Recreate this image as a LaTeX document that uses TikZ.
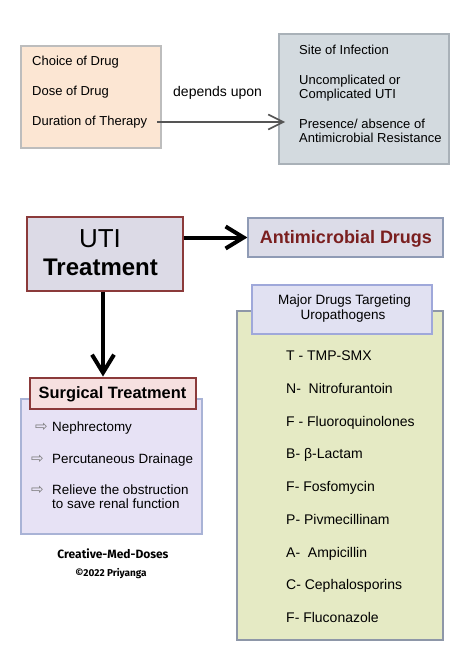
\documentclass[tikz,border=0pt]{standalone}
\usepackage{fontspec}
\setmainfont{Liberation Sans}
\newfontfamily\symfont{DejaVu Sans}
\newfontfamily\creditfont{Fira Sans}
\usetikzlibrary{arrows.meta}
\definecolor{peach}{HTML}{FCE6D3}
\definecolor{peachb}{HTML}{BDBDBD}
\definecolor{greyb}{HTML}{D3DADF}
\definecolor{greybd}{HTML}{A9B1B8}
\definecolor{utifill}{HTML}{DCDAE6}
\definecolor{darkred}{HTML}{8B3A3A}
\definecolor{antfill}{HTML}{DCDCE8}
\definecolor{antbd}{HTML}{8F9BB5}
\definecolor{anttext}{HTML}{7A1F1F}
\definecolor{hdrfill}{HTML}{E1E1F2}
\definecolor{hdrbd}{HTML}{9FA8DA}
\definecolor{greenfill}{HTML}{E5EAC4}
\definecolor{greenbd}{HTML}{8E97A8}
\definecolor{surgfill}{HTML}{F6E0E0}
\definecolor{lavfill}{HTML}{E7E2F5}
\definecolor{lavbd}{HTML}{A9B3D6}
\definecolor{arrgrey}{HTML}{555555}
\definecolor{bulletgrey}{HTML}{7A7A7A}
\tikzset{
  boxshape/.style={draw, rectangle, inner sep=0pt, line width=1.2pt},
  txt/.style={anchor=base west, inner sep=0pt, font=\fontsize{13}{15}\selectfont},
  ctxt/.style={anchor=base, inner sep=0pt},
  thickarrow/.style={line width=4pt, -{Straight Barb[length=18pt,width=22pt,line width=4pt]}},
  bul/.style={anchor=base west, inner sep=0pt, text=bulletgrey, font=\symfont\fontsize{15}{16}\selectfont}
}
\begin{document}
\begin{tikzpicture}[x=1pt,y=-1pt]
\useasboundingbox[fill=white] (0,0) rectangle (474,663);
% top section
\node[boxshape, draw=peachb, fill=peach, minimum width=140pt, minimum height=102pt] (b1) at (91,97) {};
\node[boxshape, draw=greybd, fill=greyb, minimum width=170pt, minimum height=130pt] (b2) at (364,99) {};
\node[txt] (c1) at (32,66) {Choice of Drug};
\node[txt] (c2) at (32,96) {Dose of Drug};
\node[txt] (c3) at (32,126) {Duration of Therapy};
\node[txt, font=\fontsize{14}{16}\selectfont] (dep) at (173,97) {depends upon};
\node[txt] (s1) at (299,55) {Site of Infection};
\node[txt] (s2) at (299,85) {Uncomplicated or};
\node[txt] (s3) at (299,99) {Complicated UTI};
\node[txt] (s4) at (299,129) {Presence/ absence of};
\node[txt] (s5) at (299,143) {Antimicrobial Resistance};
\coordinate (aend) at (285,122);
\draw[arrgrey, line width=1.6pt, -{Straight Barb[length=15pt,width=15pt,line width=1.6pt]}] (c3.east |- aend) ++(10,0) coordinate (astart) (astart) -- (aend);
% UTI
\node[boxshape, draw=darkred, fill=utifill, minimum width=156pt, minimum height=74pt] (uti) at (105,254) {};
\node[ctxt, font=\fontsize{26}{28}\selectfont] (utit) at (100,247) {UTI};
\node[ctxt, font=\bfseries\fontsize{24}{26}\selectfont] (utit2) at (100.5,275) {Treatment};
% Antimicrobial
\node[boxshape, draw=antbd, fill=antfill, minimum width=195pt, minimum height=39pt] (ant) at (345.5,237.5) {};
\node[ctxt, text=anttext, font=\bfseries\fontsize{18}{20}\selectfont] (antt) at (346,243) {Antimicrobial Drugs};
\draw[thickarrow] (uti.east |- ant.west) -- (ant.west);
% green
\node[boxshape, draw=greenbd, fill=greenfill, minimum width=206pt, minimum height=329pt] (green) at (340,475.5) {};
\node[boxshape, draw=hdrbd, fill=hdrfill, minimum width=180pt, minimum height=49pt] (hdr) at (342,309.5) {};
\node[ctxt, font=\fontsize{13.5}{15}\selectfont] (h1) at (344.5,304) {Major Drugs Targeting};
\node[ctxt, font=\fontsize{13.5}{15}\selectfont] (h2) at (343,319) {Uropathogens};
\node[txt, font=\fontsize{14}{16}\selectfont] (g1) at (286,360) {T - TMP-SMX};
\node[txt, font=\fontsize{14}{16}\selectfont] (g2) at (286,393) {N-\ \ Nitrofurantoin};
\node[txt, font=\fontsize{14}{16}\selectfont] (g3) at (286,426) {F - Fluoroquinolones};
\node[txt, font=\fontsize{14}{16}\selectfont] (g4) at (286,458) {B- β-Lactam};
\node[txt, font=\fontsize{14}{16}\selectfont] (g5) at (286,491) {F- Fosfomycin};
\node[txt, font=\fontsize{14}{16}\selectfont] (g6) at (286,524) {P- Pivmecillinam};
\node[txt, font=\fontsize{14}{16}\selectfont] (g7) at (286,557) {A-\ \ Ampicillin};
\node[txt, font=\fontsize{14}{16}\selectfont] (g8) at (286,589) {C- Cephalosporins};
\node[txt, font=\fontsize{14}{16}\selectfont] (g9) at (286,622) {F- Fluconazole};
% surgical
\node[boxshape, draw=lavbd, fill=lavfill, minimum width=181pt, minimum height=135pt] (lav) at (111.5,466.5) {};
\node[boxshape, draw=darkred, fill=surgfill, minimum width=166pt, minimum height=31pt] (surg) at (113,393.5) {};
\node[ctxt, font=\bfseries\fontsize{16.4}{18}\selectfont] (surgt) at (112.5,398) {Surgical Treatment};
\draw[thickarrow] (uti.south -| 103,0) -- (103,376.5) coordinate (dend);
\node[bul] (a1) at (35,431) {⇨};
\node[bul] (a2) at (31,463) {⇨};
\node[bul] (a3) at (31,494) {⇨};
\node[txt, font=\fontsize{13.4}{15}\selectfont] (l1) at (52,431) {Nephrectomy};
\node[txt, font=\fontsize{13.4}{15}\selectfont] (l2) at (52,463) {Percutaneous Drainage};
\node[txt, font=\fontsize{13.4}{15}\selectfont] (l3) at (52,494) {Relieve the obstruction};
\node[txt, font=\fontsize{13.4}{15}\selectfont] (l4) at (52,508) {to save renal function};
% credit
\node[ctxt, font=\creditfont\bfseries\fontsize{12}{14}\selectfont] (cr1) at (113,558) {Creative-Med-Doses};
\node[ctxt, font=\creditfont\bfseries\fontsize{10}{12}\selectfont] (cr2) at (111,576) {©2022 Priyanga};
\end{tikzpicture}
\end{document}
